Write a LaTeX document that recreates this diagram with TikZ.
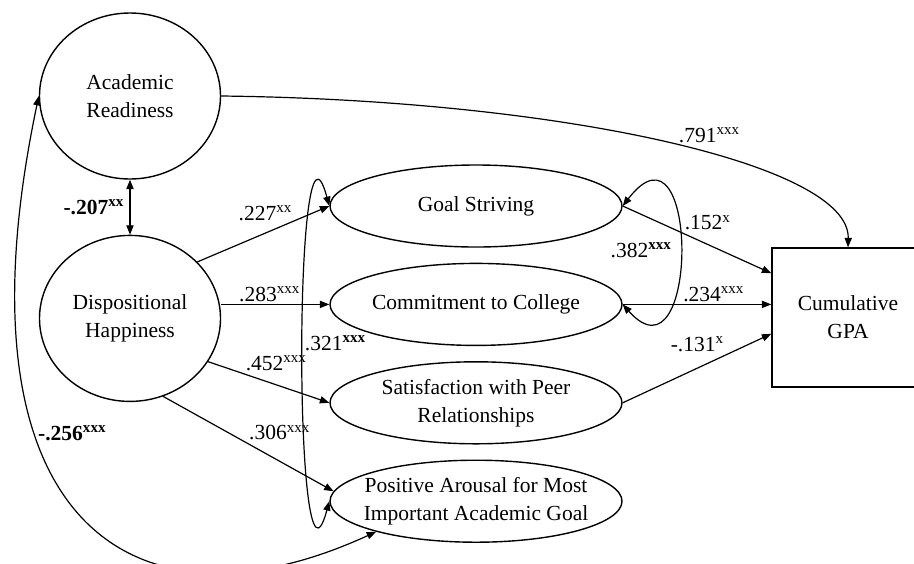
\documentclass[tikz,border=0pt]{standalone}
\usepackage{fontspec}
\setmainfont{Liberation Serif}
\usepackage{tikz}
\usetikzlibrary{shapes.geometric,arrows.meta,positioning}
\newcommand{\est}[2]{#1\textsuperscript{#2}}
\newcommand{\semfont}{\fontsize{10.75}{14}\selectfont}
\tikzset{
  factor/.style={ellipse,draw,line width=0.7pt,minimum width=90.5pt,
              minimum height=83pt,inner sep=0pt,align=center,font=\semfont},
  latent/.style={ellipse,draw,line width=0.7pt,minimum width=146pt,
              minimum height=41pt,inner xsep=-8pt,inner ysep=0pt,align=center,font=\semfont},
  outcome/.style={rectangle,draw,line width=0.7pt,minimum width=76pt,
              minimum height=69.5pt,align=center,font=\semfont},
  coef/.style={font=\semfont,inner sep=1pt},
  effect/.style={-{Triangle[length=4.7pt,width=3.6pt]},line width=0.6pt},
  covar/.style={{Triangle[length=4.7pt,width=3.6pt]}-{Triangle[length=4.7pt,width=3.6pt]},line width=0.6pt},
}
\begin{document}
\begin{tikzpicture}[x=0.5pt,y=-0.5pt]
  \useasboundingbox (0,0) rectangle (914,563);

  % predictors
  \node[factor] (ready) at (130,96) {Academic\\ Readiness};
  \node[factor,below=27.5pt of ready] (happy) {Dispositional\\ Happiness};

  % mediators
  \node[latent] (goal) at (476,206) {Goal Striving};
  \node[latent,below=7.5pt of goal] (commit) {Commitment to College};
  \node[latent,below=7.5pt of commit] (peer) {Satisfaction with Peer\\ Relationships};
  \node[latent,below=7.5pt of peer] (arousal) {Positive Arousal for Most\\ Important Academic Goal};

  % outcome
  \node[outcome] (gpa) at (848,317.5) {Cumulative\\ GPA};

  % paths from happiness
  \draw[covar] (ready) -- (happy) node[coef,midway,left=1.5pt]{\textbf{\est{-.207}{xx}}};
  \draw[effect] (happy.40) -- (goal.west) node[coef,pos=.74,anchor=south east,yshift=-1.5pt]{\est{.227}{xx}};
  \draw[effect] (happy.east |- commit.west) -- (commit.west) node[coef,pos=.45,above]{\est{.283}{xxx}};
  \draw[effect] (happy.-29) -- (peer.west) node[coef,pos=.29,anchor=south west]{\est{.452}{xxx}};
  \draw[effect] (happy.-67) -- (arousal.176) node[coef,pos=.49,anchor=south west]{\est{.306}{xxx}};

  % covariances between mediators
  \draw[covar] (goal.west) .. controls +(-36,-133) and +(-36,133) .. (arousal.west)
        node[coef,pos=.5,anchor=south west]{\est{.321}{\textbf{xxx}}};
  \draw[covar] (goal.east) .. controls +(77,-100) and +(77,86) .. (commit.east)
        node[coef,pos=.5,left=3pt]{\est{.382}{\textbf{xxx}}};
  \draw[covar] (ready.west) .. controls +(-89,423) and +(-246,113) .. (arousal.197)
        node[coef,pos=.35,anchor=west]{\textbf{\est{-.256}{xxx}}};

  % paths into GPA
  \draw[effect] (ready.east) .. controls +(340,4) and +(2,-83) .. (gpa.north)
        node[coef,pos=.52,anchor=south west]{\est{.791}{xxx}};
  \draw[effect] (goal.east) -- (gpa.150) node[coef,pos=.4,anchor=south west]{\est{.152}{x}};
  \draw[effect] (commit.east) -- (commit.east -| gpa.west) node[coef,pos=.39,anchor=south west]{\est{.234}{xxx}};
  \draw[effect] (peer.east) -- (gpa.192) node[coef,pos=.7,anchor=south east]{\est{-.131}{x}};
\end{tikzpicture}
\end{document}
